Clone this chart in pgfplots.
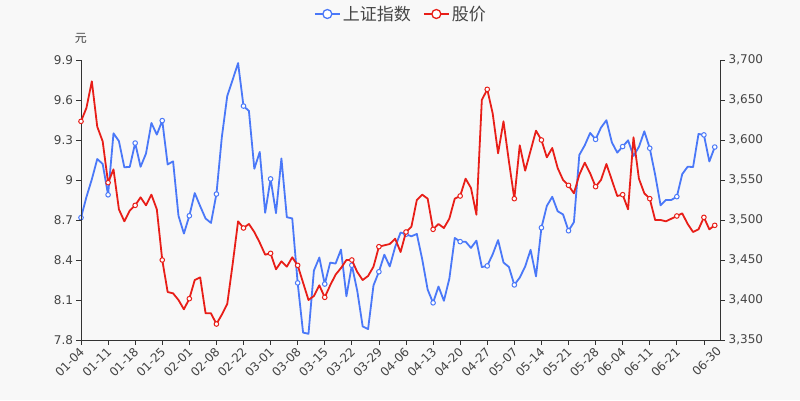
\documentclass[border=0pt]{standalone}
\usepackage{pgfplots}
\usepackage{pgfplotstable}
\pgfplotsset{compat=1.18}
\usepackage{fontspec}
\setmainfont{DejaVu Sans}
\newfontfamily\cjk{Noto Sans CJK SC}
\definecolor{bgc}{RGB}{248,248,248}
\definecolor{cblue}{RGB}{74,120,248}
\definecolor{cred}{RGB}{232,30,24}
\definecolor{axc}{RGB}{51,51,51}
\definecolor{txc}{RGB}{68,68,68}

\pgfplotstableread{
v
3502.96
3528.68
3550.88
3576.20
3570.11
3531.50
3608.34
3598.65
3565.90
3566.38
3596.22
3566.50
3583.09
3621.26
3606.75
3624.24
3569.43
3573.34
3505.18
3483.07
3505.28
3533.68
3517.31
3501.86
3496.33
3532.44
3603.49
3655.09
3675.36
3696.17
3642.44
3636.36
3564.08
3585.05
3509.08
3551.40
3508.59
3576.90
3503.49
3501.99
3421.41
3359.29
3357.74
3436.83
3453.08
3419.95
3446.73
3445.55
3463.07
3404.66
3443.44
3411.51
3367.06
3363.59
3418.33
3435.30
3456.68
3441.91
3466.33
3484.39
3482.18
3479.63
3482.55
3450.68
3412.95
3396.47
3416.89
3398.99
3426.62
3477.55
3472.94
3472.93
3465.11
3474.17
3441.17
3442.61
3457.07
3474.90
3446.86
3441.28
3418.87
3427.99
3441.85
3462.75
3429.54
3490.38
3517.62
3529.01
3510.96
3506.94
3486.56
3497.28
3581.34
3593.36
3608.85
3600.78
3615.48
3624.71
3597.14
3584.22
3591.84
3599.54
3580.11
3591.40
3610.86
3589.75
3556.56
3518.33
3525.10
3525.10
3529.18
3557.41
3566.65
3566.22
3607.56
3606.37
3573.18
3591.20
}\indexdata

\pgfplotstableread{
v
9.44
9.54
9.74
9.40
9.29
8.98
9.08
8.78
8.69
8.77
8.81
8.87
8.81
8.89
8.78
8.40
8.16
8.15
8.10
8.03
8.11
8.25
8.27
8.00
8.00
7.92
7.99
8.07
8.37
8.69
8.64
8.67
8.61
8.53
8.44
8.45
8.33
8.39
8.35
8.42
8.36
8.23
8.10
8.13
8.21
8.12
8.21
8.29
8.34
8.40
8.40
8.31
8.25
8.28
8.35
8.50
8.51
8.52
8.56
8.46
8.61
8.65
8.85
8.89
8.86
8.63
8.67
8.64
8.71
8.86
8.88
9.01
8.94
8.74
9.60
9.68
9.50
9.20
9.44
9.14
8.86
9.26
9.07
9.22
9.37
9.30
9.17
9.24
9.09
9.00
8.96
8.90
9.04
9.13
9.05
8.95
9.00
9.12
9.00
8.88
8.89
8.78
9.32
9.01
8.90
8.86
8.70
8.70
8.69
8.71
8.73
8.75
8.67
8.61
8.63
8.72
8.63
8.66
}\pricedata

\begin{document}
\begin{tikzpicture}
\path[fill=bgc] (-81pt,-60pt) rectangle (719pt,340pt);
\pgfplotsset{
  common/.style={
    scale only axis, width=639.7pt, height=280pt,
    xmin=0, xmax=118.1,
    axis line style={axc, line width=0.8pt},
    tick style={axc, line width=0.8pt},
    tick align=outside, major tick length=4.5pt,
    ticklabel style={font=\fontsize{12}{14}\selectfont, text=txc},
    /pgf/number format/assume math mode=true,
    clip=false,
  },
  ser/.style={line width=1.8pt, line join=round, mark=*,
    mark indices={1,6,11,16,21,26,31,36,41,46,51,56,61,66,71,76,81,86,91,96,101,106,111,116,118},
    mark size=2.3pt},
}
\begin{axis}[common,
  axis y line*=right, axis x line=none,
  ymin=3350, ymax=3700,
  ytick={3350,3400,3450,3500,3550,3600,3650,3700},
  yticklabels={{3,350},{3,400},{3,450},{3,500},{3,550},{3,600},{3,650},{3,700}},
  legend columns=2,
  legend style={at={(axis description cs:0.5,1)}, anchor=center, yshift=46pt,
    draw=none, fill=none, font=\cjk\fontsize{17}{20}\selectfont, text=txc,
    /tikz/every even column/.append style={column sep=10pt}},
  legend image code/.code={
    \draw[#1, mark=none, line width=2pt] (0pt,0pt) -- (25pt,0pt);
    \draw[#1, mark=none, line width=1.3pt, fill=white] (12.5pt,0pt) circle (4.5pt);
  },
]
\addplot[ser, cblue, mark options={draw=cblue, fill=white, line width=1pt}] table[x expr=\coordindex, y=v] {\indexdata};
\addlegendentry{上证指数}
\addlegendimage{cred, line width=1.8pt}
\addlegendentry{股价}
\end{axis}
\begin{axis}[common,
  axis y line*=left, axis x line*=bottom,
  ymin=7.8, ymax=9.9,
  ytick={7.8,8.1,8.4,8.7,9.0,9.3,9.6,9.9},
  yticklabels={7.8,8.1,8.4,8.7,9,9.3,9.6,9.9},
  xtick={0,5,...,115},
  xticklabels={01-04,01-11,01-18,01-25,02-01,02-08,02-22,03-01,03-08,03-15,03-22,03-29,04-06,04-13,04-20,04-27,05-07,05-14,05-21,05-28,06-04,06-11,06-21,{}},
  extra x ticks={117},
  extra x tick labels={06-30},
  extra x tick style={major tick length=0pt, xticklabel style={yshift=-4.5pt}},
  xticklabel style={xshift=3.5pt, yshift=-3pt, rotate=45, anchor=east},
]
\addplot[ser, cred, mark options={draw=cred, fill=white, line width=1pt}] table[x expr=\coordindex, y=v] {\pricedata};
\node[font=\cjk\fontsize{12}{14}\selectfont, text=txc] at (rel axis cs:0,1) [yshift=22pt] {元};
\end{axis}
\pgfresetboundingbox
\path[use as bounding box] (-81pt,-60pt) rectangle (719pt,340pt);
\end{tikzpicture}
\end{document}
